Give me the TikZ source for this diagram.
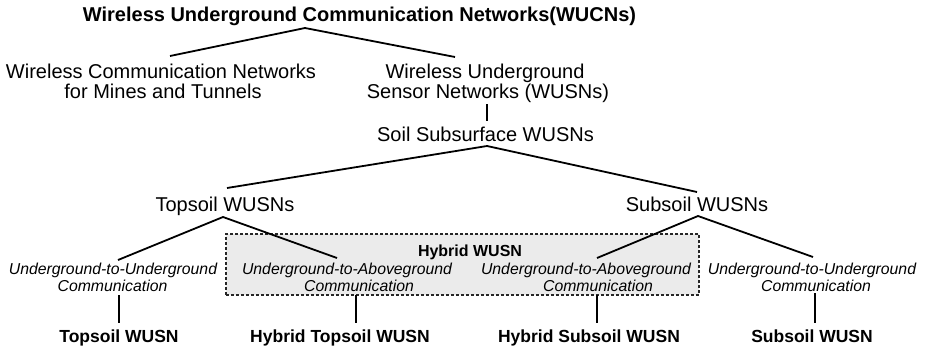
\documentclass[tikz,border=0pt]{standalone}
\usepackage{fontspec}
\setmainfont{Liberation Sans}
\usetikzlibrary{calc}
\definecolor{boxgray}{RGB}{235,235,235}
\begin{document}
\begin{tikzpicture}[x=1pt,y=-1pt,
  txt/.style={inner sep=0pt, anchor=base, font=\fontsize{20}{24}\selectfont},
  ttl/.style={inner sep=0pt, anchor=base, font=\bfseries\fontsize{20}{24}\selectfont},
  itx/.style={inner sep=0pt, anchor=base, font=\itshape\fontsize{15.8}{19}\selectfont},
  hyb/.style={inner sep=0pt, anchor=base, font=\bfseries\fontsize{16}{19}\selectfont},
  leaf/.style={inner sep=0pt, anchor=base, font=\bfseries\fontsize{17.5}{21}\selectfont},
  conn/.style={line width=1.8pt, line join=round},
  hybridbox/.style={draw=black!85, line width=1.1pt, dash pattern=on 3pt off 2pt, fill=boxgray, inner sep=0pt}]
\useasboundingbox (0,0) rectangle (925,351);
\node[hybridbox, minimum width=473pt, minimum height=61pt] (hbox) at (462.5,264.5) {};
\node[ttl] (title) at (359.5,21) {Wireless Underground Communication Networks(WUCNs)};
\node[txt] (mineA) at (161,78.5) {Wireless Communication Networks};
\node[txt] (mineB) at (163,98) {for Mines and Tunnels};
\node[txt] (wusnA) at (485,78.5) {Wireless Underground};
\node[txt] (wusnB) at (488,98) {Sensor Networks (WUSNs)};
\node[txt] (soil) at (485.5,141) {Soil Subsurface WUSNs};
\node[txt] (top) at (225,211.5) {Topsoil WUSNs};
\node[txt] (sub) at (697,211.5) {Subsoil WUSNs};
\node[hyb] (hlabel) at (470,256.5) {Hybrid WUSN};
\node[itx] (uuTa) at (113,274.8) {Underground-to-Underground};
\node[itx] (uuTb) at (112.5,291.5) {Communication};
\node[itx] (uaTa) at (347,274.8) {Underground-to-Aboveground};
\node[itx] (uaTb) at (359,291.5) {Communication};
\node[itx] (uaSa) at (586,274.8) {Underground-to-Aboveground};
\node[itx] (uaSb) at (598,291.5) {Communication};
\node[itx] (uuSa) at (812,274.8) {Underground-to-Underground};
\node[itx] (uuSb) at (816,291.5) {Communication};
\node[leaf] (lTop) at (119,342.6) {Topsoil WUSN};
\node[leaf] (lHT) at (340,342.6) {Hybrid Topsoil WUSN};
\node[leaf] (lHS) at (589,342.6) {Hybrid Subsoil WUSN};
\node[leaf] (lSub) at (812,342.6) {Subsoil WUSN};
\draw[conn] ($(mineA.base)+(9,-22.5)$) -- ($(title.base)+(-54.5,7)$) -- ($(wusnA.base)+(-30,-21.5)$);
\draw[conn] ($(wusnB.base)+(-1,6)$) -- ($(soil.base)+(1.5,-20)$);
\draw[conn] ($(top.base)+(2,-23.5)$) -- ($(soil.base)+(1.5,5)$) -- ($(sub.base)+(0,-19.5)$);
\draw[conn] ($(uuTa.base)+(5,-14.8)$) -- ($(top.base)+(-2,5.5)$) -- ($(uaTa.base)+(-10,-16.8)$);
\draw[conn] ($(uaSa.base)+(11,-16.8)$) -- ($(sub.base)+(1,4.5)$) -- ($(uuSa.base)+(1,-17.8)$);
\draw[conn] ($(uuTb.base)+(6.5,3.5)$) -- ($(lTop.base)+(0,-19.6)$);
\draw[conn] ($(uaTb.base)+(-3,3.5)$) -- ($(lHT.base)+(16,-19.6)$);
\draw[conn] ($(uaSb.base)+(-1,3.5)$) -- ($(lHS.base)+(8,-19.6)$);
\draw[conn] ($(uuSb.base)+(-1,1.5)$) -- ($(lSub.base)+(3,-19.6)$);
\end{tikzpicture}
\end{document}
